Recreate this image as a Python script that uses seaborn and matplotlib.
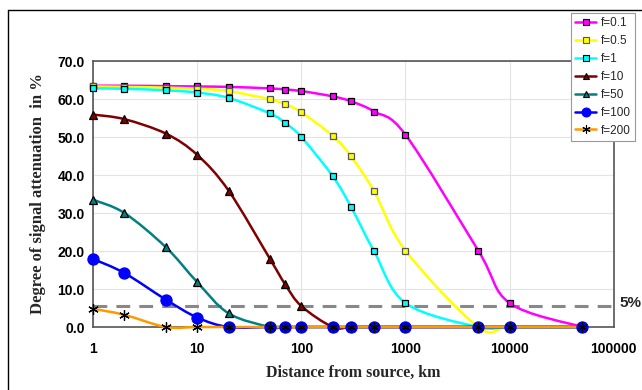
import numpy as np
import pandas as pd
import seaborn as sns
import matplotlib.pyplot as plt
from matplotlib.path import Path
from matplotlib.patches import PathPatch
from matplotlib.lines import Line2D

# distances (km) where each curve was sampled
distance = [1, 2, 5, 10, 20, 50, 70, 100, 200, 300, 500, 1000, 5000, 10000, 50000]

# attenuation in % for each frequency
att_f01 = [63.5, 63.5, 63.4, 63.3, 63.2, 62.8, 62.5, 62.1, 60.7, 59.4, 56.7, 50.6, 20.1, 6.3, 0.0]
att_f05 = [63.3, 63.2, 63.0, 62.7, 62.1, 59.9, 58.6, 56.5, 50.3, 44.9, 35.7, 20.1, 0.0, 0.0, 0.0]
att_f1 = [62.8, 62.7, 62.3, 61.7, 60.3, 56.2, 53.7, 50.0, 39.7, 31.6, 19.9, 6.3, 0.0, 0.0, 0.0]
att_f10 = [55.9, 54.7, 50.9, 45.3, 35.9, 17.9, 11.2, 5.5, 0.0, 0.0, 0.0, 0.0, 0.0, 0.0, 0.0]
att_f50 = [33.5, 30.0, 21.0, 11.8, 3.6, 0.0, 0.0, 0.0, 0.0, 0.0, 0.0, 0.0, 0.0, 0.0, 0.0]
att_f100 = [17.9, 14.2, 7.2, 2.5, 0.0, 0.0, 0.0, 0.0, 0.0, 0.0, 0.0, 0.0, 0.0, 0.0, 0.0]
att_f200 = [4.8, 3.2, 0.0, 0.0, 0.0, 0.0, 0.0, 0.0, 0.0, 0.0, 0.0, 0.0, 0.0, 0.0, 0.0]

labels = ["f=0.1", "f=0.5", "f=1", "f=10", "f=50", "f=100", "f=200"]
x_ticks = [1, 10, 100, 1000, 10000, 100000]
y_ticks = [0, 10, 20, 30, 40, 50, 60, 70]
threshold = 5.5

series = [att_f01, att_f05, att_f1, att_f10, att_f50, att_f100, att_f200]

# line colour, marker, face, edge, marker size (pt)
styles = [
    ("#ff00ff", "s", "#ff00ff", "black", 5.0),
    ("#ffff00", "s", "#ffff00", "#555555", 5.0),
    ("#00ffff", "s", "#00ffff", "black", 5.0),
    ("#800000", "^", "#800000", "black", 6.0),
    ("#008080", "^", "#008080", "black", 6.0),
    ("#0000ff", "o", "#0000ff", "#0000ff", 8.0),
    ("#ff9900", (6, 2, 0), "black", "black", 7.5),
]


def smooth_path(xs, ys):
    """Excel-like smoothed line: cubic Bezier through the points (log-x space)"""
    pts = np.column_stack([np.log10(xs), ys])
    n = len(pts)
    verts = [pts[0]]
    codes = [Path.MOVETO]
    for i in range(n - 1):
        p0 = pts[max(i - 1, 0)]
        p1 = pts[i]
        p2 = pts[i + 1]
        p3 = pts[min(i + 2, n - 1)]
        c1 = p1 + (p2 - p0) / 6
        c2 = p2 - (p3 - p1) / 6
        verts += [c1, c2, p2]
        codes += [Path.CURVE4] * 3
    verts = np.array(verts)
    verts[:, 0] = 10 ** verts[:, 0]
    return Path(verts, codes)


sns.set_style("white")
plt.rcParams["font.family"] = ["Liberation Sans", "DejaVu Sans"]

fig = plt.figure(figsize=(6.42, 3.9), dpi=100)
ax = fig.add_axes([0.145, 0.1615, 0.811, 0.682])

df = pd.DataFrame({"distance": distance})
for lab, vals in zip(labels, series):
    df[lab] = vals

handles = []
for k, (lab, st) in enumerate(zip(labels, styles)):
    color, marker, face, edge, ms = st
    patch = PathPatch(smooth_path(df["distance"].values, df[lab].values),
                      facecolor="none", edgecolor=color, lw=1.8,
                      clip_on=False, zorder=3 + k * 0.1)
    ax.add_patch(patch)
    sns.lineplot(data=df, x="distance", y=lab, ax=ax, linestyle="none",
                 marker=marker, markersize=ms, markerfacecolor=face,
                 markeredgecolor=edge, markeredgewidth=0.9,
                 clip_on=False, zorder=4 + k * 0.1)
    handles.append(Line2D([], [], color=color, lw=1.8, marker=marker,
                          markersize=ms * 0.8, markerfacecolor=face,
                          markeredgecolor=edge, markeredgewidth=0.8))

ax.axhline(threshold, color="#888888", lw=2.2, dashes=(4.5, 3), zorder=2)

ax.set_xscale("log")
ax.set_xlim(1, 100000)
ax.set_ylim(0, 70)
ax.set_xticks(x_ticks)
ax.set_xticklabels([str(t) for t in x_ticks])
ax.minorticks_off()
ax.set_yticks(y_ticks)
ax.set_yticklabels([f"{t:.1f}" for t in y_ticks])
ax.tick_params(axis="both", labelsize=10, colors="#808080", length=3, width=0.8)
ax.tick_params(axis="y", pad=3)
ax.tick_params(axis="x", pad=8)
for lbl in ax.get_xticklabels() + ax.get_yticklabels():
    lbl.set_fontweight("bold")
    lbl.set_color("black")

ax.grid(True, color="#e4e4e4", lw=0.8)
ax.set_axisbelow(True)
for side in ["left", "bottom", "top", "right"]:
    ax.spines[side].set_color("#555555")
    ax.spines[side].set_linewidth(1.2)

ax.set_xlabel("Distance from source, km", fontsize=11.5, fontweight="bold",
              family="Liberation Serif", labelpad=6)
ax.set_ylabel("Degree of signal attenuation  in %", fontsize=12,
              fontweight="bold", family="Liberation Serif", labelpad=8)

fig.text(619 / 642, 1 - 303 / 390, "5%", fontsize=11, fontweight="bold",
         va="center", ha="left")

leg = fig.legend(handles=handles, labels=labels, loc="upper right",
                 bbox_to_anchor=(635 / 642, 1 - 13 / 390), fontsize=8.5,
                 frameon=True, fancybox=False, edgecolor="#999999",
                 framealpha=1, handlelength=1.8, handletextpad=0.4,
                 labelspacing=0.5, borderpad=0.35, borderaxespad=0)
leg.get_frame().set_linewidth(0.8)
leg.set_zorder(10)

# outer chart border
fig.add_artist(Line2D([8 / 642, 8 / 642], [0, 1 - 10 / 390], color="black", lw=1.0))
fig.add_artist(Line2D([8 / 642, 1], [1 - 10 / 390, 1 - 10 / 390], color="black", lw=1.0))

fig.savefig("out.png", dpi=100)
